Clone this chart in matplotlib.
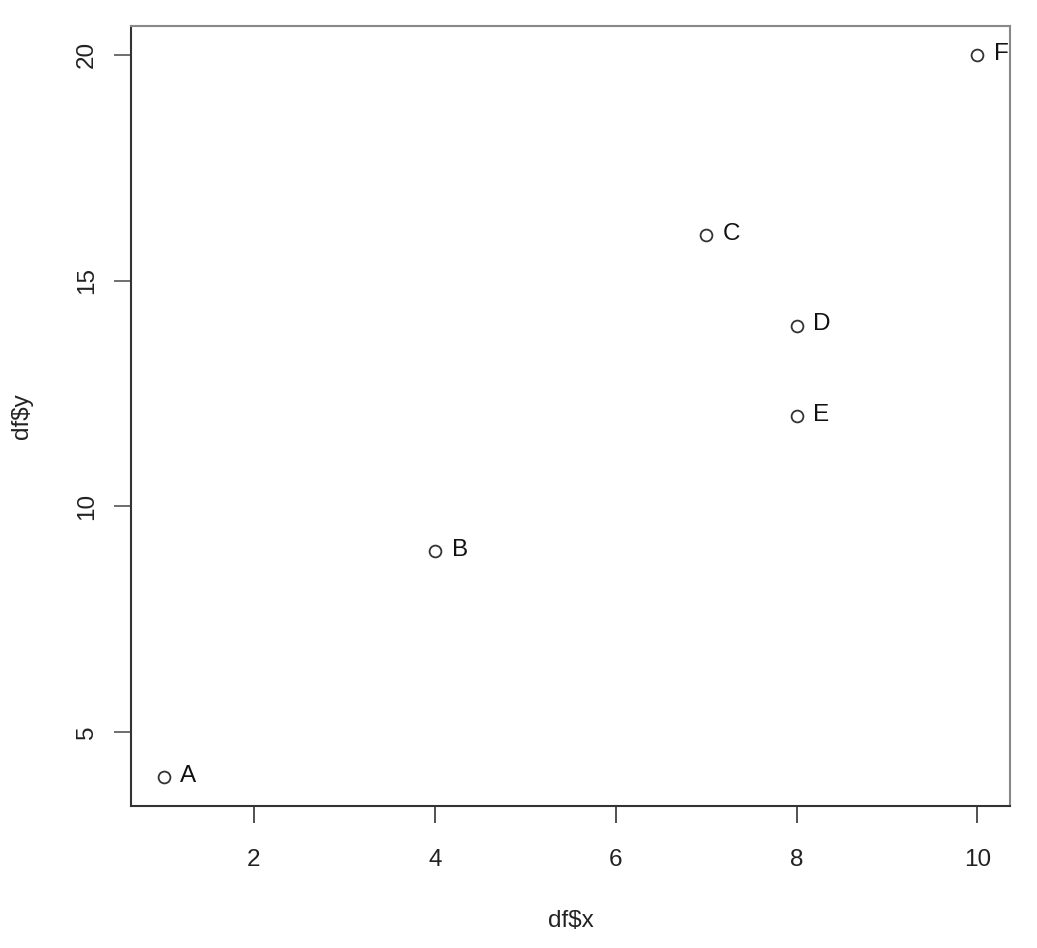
import matplotlib
matplotlib.use("Agg")
import matplotlib.pyplot as plt

# data
x = [1, 4, 7, 8, 8, 10]
y = [4, 9, 16, 14, 12, 20]
names = ["A", "B", "C", "D", "E", "F"]
xticks = [2, 4, 6, 8, 10]
yticks = [5, 10, 15, 20]

plt.rcParams['font.family'] = ['Liberation Sans', 'DejaVu Sans']
fs = 17.5

fig = plt.figure(figsize=(10.37, 9.48), dpi=100)
ax = fig.add_axes([131/1037, 1 - 806/948, (1010 - 131)/1037, (806 - 26)/948])

ax.plot(x, y, 'o', ms=8.5, mfc='none', mec='#333333', mew=1.3)
for xi, yi, n in zip(x, y, names):
    ax.annotate(n, (xi, yi), xytext=(12, 1), textcoords='offset points',
                ha='left', va='center', fontsize=fs, color='#111111',
                annotation_clip=True, clip_on=True)

# R style 4% padding
dx = (max(x) - min(x)) * 0.04
dy = (max(y) - min(y)) * 0.04
ax.set_xlim(min(x) - dx, max(x) + dx)
ax.set_ylim(min(y) - dy, max(y) + dy)

ax.set_xticks(xticks)
ax.set_xticklabels([str(t) for t in xticks], fontsize=fs, color='#222222')
ax.set_yticks(yticks)
ax.set_yticklabels([str(t) for t in yticks], fontsize=fs, color='#222222',
                   rotation=90, va='center')
ax.tick_params(axis='x', length=12, width=1.2, color='#333333', pad=19)
ax.tick_params(axis='y', length=12, width=1.2, color='#555555', pad=12)

for s in ['left', 'bottom']:
    ax.spines[s].set_color('#333333')
    ax.spines[s].set_linewidth(1.5)
for s in ['top', 'right']:
    ax.spines[s].set_color('#888888')
    ax.spines[s].set_linewidth(1.5)

ax.set_xlabel('df$x', fontsize=fs, color='#222222', labelpad=28)
ax.set_ylabel('df$y', fontsize=fs, color='#222222', labelpad=31)

fig.savefig('out.png', dpi=100)
